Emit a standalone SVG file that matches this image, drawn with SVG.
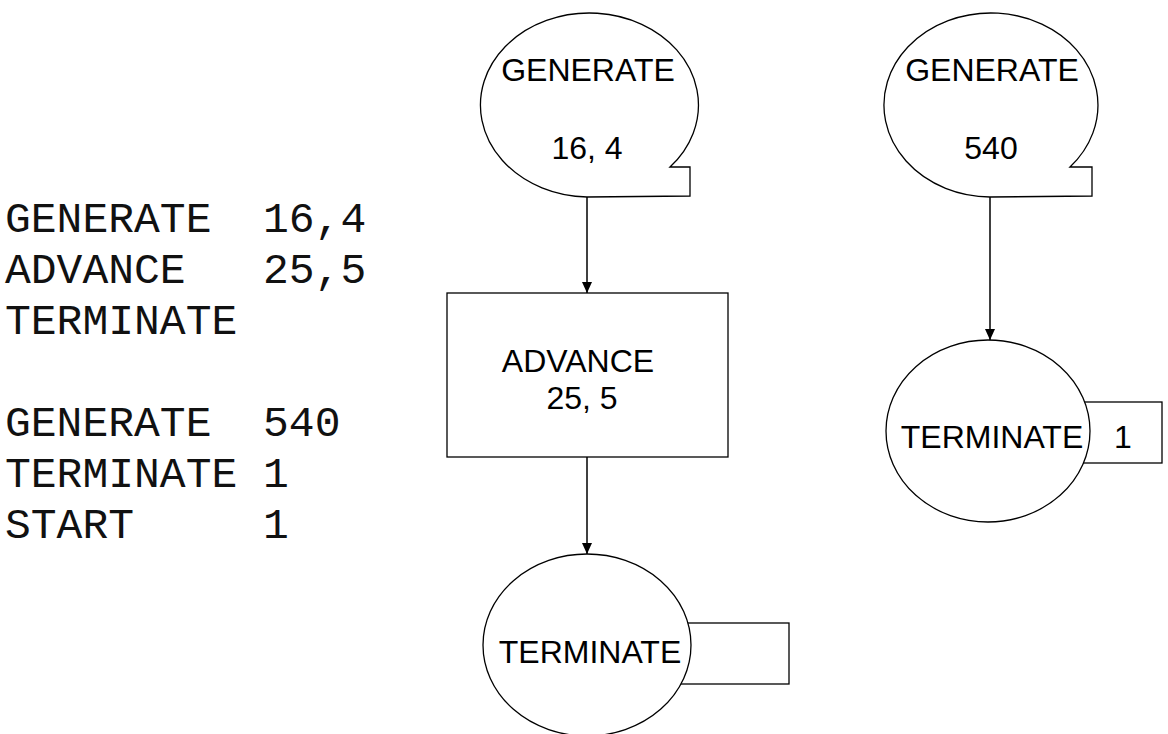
<svg xmlns="http://www.w3.org/2000/svg" width="1168" height="734" viewBox="0 0 1168 734">
<style>
.shape{fill:#fff;stroke:#000;stroke-width:1.3}
.lbl{font-family:"Liberation Sans",Arial,sans-serif;font-size:32px;fill:#000;text-anchor:middle}
.code{font-family:"Liberation Mono","Courier New",monospace;font-size:43px;fill:#111;white-space:pre}
.conn{stroke:#000;stroke-width:1.5;fill:none;marker-end:url(#arr)}
</style>
<defs>
<marker id="arr" markerWidth="12" markerHeight="12" refX="11" refY="6" orient="auto" markerUnits="userSpaceOnUse">
<path d="M0,1 L11,6 L0,11 Z" fill="#000"/>
</marker>
</defs>
<rect width="1168" height="734" fill="#fff"/>
<g id="code">
<text class="code" x="5" y="232" xml:space="preserve">GENERATE  16,4</text>
<text class="code" x="5" y="283" xml:space="preserve">ADVANCE   25,5</text>
<text class="code" x="5" y="334" xml:space="preserve">TERMINATE</text>
<text class="code" x="5" y="436" xml:space="preserve">GENERATE  540</text>
<text class="code" x="5" y="487" xml:space="preserve">TERMINATE 1</text>
<text class="code" x="5" y="538" xml:space="preserve">START     1</text>
</g>
<g id="connectors">
<line class="conn" x1="587" y1="197" x2="587" y2="293"/>
<line class="conn" x1="587" y1="457" x2="587" y2="554"/>
<line class="conn" x1="990" y1="197" x2="990" y2="340"/>
</g>
<g id="generate1">
<path class="shape" d="M587,197 A109,92 0 1 1 670,167 L690,167 L690,196 Z"/>
<text class="lbl" x="588" y="81">GENERATE</text>
<text class="lbl" x="587" y="159">16, 4</text>
</g>
<g id="advance">
<rect class="shape" x="447" y="293" width="281" height="164"/>
<text class="lbl" x="578" y="372">ADVANCE</text>
<text class="lbl" x="582" y="409">25, 5</text>
</g>
<g id="terminate1">
<rect class="shape" x="640" y="623" width="149" height="61"/>
<ellipse class="shape" cx="587" cy="645" rx="104" ry="91"/>
<text class="lbl" x="590" y="663">TERMINATE</text>
</g>
<g id="generate2">
<path class="shape" d="M990,197 A107,92 0 1 1 1070,167 L1092,167 L1092,196 Z"/>
<text class="lbl" x="992" y="81">GENERATE</text>
<text class="lbl" x="991" y="159">540</text>
</g>
<g id="terminate2">
<rect class="shape" x="1040" y="402" width="122" height="61"/>
<ellipse class="shape" cx="988" cy="431" rx="102" ry="91"/>
<text class="lbl" x="992" y="448">TERMINATE</text>
<text class="lbl" x="1123" y="448">1</text>
</g>
</svg>
